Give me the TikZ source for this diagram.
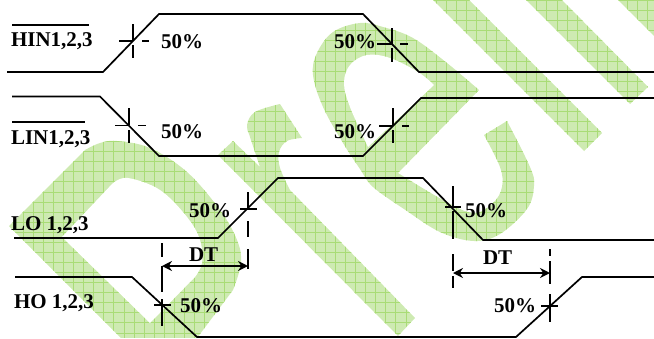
\documentclass[tikz,border=0pt]{standalone}
\usepackage{fontspec}
\setmainfont{Liberation Serif}
\usetikzlibrary{arrows.meta}
\definecolor{wmfill}{HTML}{CEEAB2}
\definecolor{wmgrid}{HTML}{A9DC76}
\tikzset{
  wave/.style={line width=1.7pt,line join=miter},
  tick/.style={line width=1.5pt},
  lab/.style={anchor=base west,inner sep=0pt,outer sep=0pt,font=\fontsize{21}{24}\selectfont\bfseries,text=black},
  dim/.style={line width=1.6pt,{Stealth[length=10pt,width=10pt]}-{Stealth[length=10pt,width=10pt]}},
  hole/.style={fill=white,draw=none}
}
\begin{document}
\begin{tikzpicture}[x=1pt,y=-1pt]
\useasboundingbox (0,0) rectangle (654,338);
\begin{scope}
\clip
  % P
  (9,226) -- (85,150) -- plot[smooth,tension=0.6] coordinates {(85,150)(100,143)(117,141)(150,148)(187,172)(220,210)(237,240)(241,263)(233,290)} -- (197,338) -- (121,338) -- cycle
  % r
  (218,155) -- (233,141) -- (260,167) -- plot[smooth,tension=0.6] coordinates {(260,167)(250,137)(247,125)(255,112)(280,104)} -- (302,138) -- plot[smooth,tension=0.6] coordinates {(302,138)(287,141)(279,152)(280,168)(290,190)} -- (415,318) -- (398,336) -- cycle
  % e
  (479,90) -- plot[smooth,tension=0.6] coordinates {(479,90)(447,63)(413,38)(383,27)(360,23)(333,32)(317,53)(313,75)(323,107)(343,143)(360,169)(373,187)(404,209)(440,232)(474,241)(500,234)(527,209)(534,186)(530,167)(507,121)} -- (484,135) -- plot[smooth,tension=0.6] coordinates {(484,135)(500,167)(502,187)(493,203)(473,213)(443,200)(398,173)} -- cycle
  % l
  (433,0) -- (469,0) -- (602,133) -- (584,151) -- cycle
  % i
  (526,0) -- (562,0) -- (648,87) -- (630,104) -- cycle
  (618,0) -- (654,0) -- (654,36) -- cycle;
\fill[wmfill] (0,0) rectangle (654,338);
\foreach \i in {0,...,65} {\draw[wmgrid,line width=0.8pt] ({3.1+\i*10.07},0) -- ({3.1+\i*10.07},338);}
\foreach \i in {0,...,34} {\draw[wmgrid,line width=0.8pt] (0,{0.6+\i*10.07}) -- (654,{0.6+\i*10.07});}
\end{scope}
% counters of P and e
\fill[hole] (62,237) -- (113,183) -- plot[smooth,tension=0.6] coordinates {(113,183)(128,178)(160,190)(187,217)(200,240)(202,263)(195,277)} -- (150,323) -- cycle;
\fill[hole] (434,85) -- plot[smooth,tension=0.6] coordinates {(434,85)(418,72)(390,58)(367,55)(350,65)(344,83)(350,107)(368,147)} -- cycle;
% waveforms
\draw[wave] (7,72) -- (103,72) -- (159,14) -- (363,14) -- (419,72) -- (654,72);
\draw[wave] (12,96.5) -- (100,96.5) -- (159,156) -- (363,156) -- (421,98) -- (654,98);
\draw[wave] (14,238) -- (218,238) -- (278,178) -- (423,178) -- (483,240) -- (654,240);
\draw[wave] (15,277) -- (132,277) -- (197,337) -- (516,337) -- (582,277) -- (654,277);
% marks
\draw[tick] (133,24) -- (133,41) (133,45) -- (133,58) (119,41) -- (133,41) (142,41) -- (149,41);
\draw[tick] (129,108) -- (129,125) (129,130) -- (129,143) (115,125.5) -- (129,125.5) (138,125.5) -- (146,125.5);
\draw[tick] (392,28) -- (392,44) (392,48) -- (392,62) (377,44) -- (392,44) (400,44) -- (408,44);
\draw[tick] (393,108) -- (393,125) (393,130) -- (393,143) (379,126) -- (393,126) (402,126) -- (409,126);
\draw[tick] (248,192) -- (248,209) (248,221) -- (248,237) (248,249) -- (248,269) (240,209) -- (257,209);
\draw[tick] (162,243) -- (162,257) (162,266) -- (162,292) (162,299) -- (162,326) (154,305) -- (171,305);
\draw[tick] (453,186) -- (453,207) (453,211) -- (453,239) (453,254) -- (453,271) (453,276) -- (453,288) (445,207) -- (461,207);
\draw[tick] (550,249) -- (550,256) (550,261) -- (550,284) (550,294) -- (550,322) (541,306) -- (558,306);
% dimension arrows
\coordinate (dtaL) at (162,266);
\coordinate (dtaR) at (248,266);
\coordinate (dtbL) at (453,273);
\coordinate (dtbR) at (550,273);
\draw[dim] (dtaL) -- (dtaR);
\draw[dim] (dtbL) -- (dtbR);
% labels
\node[lab] (hin) at (11,46) {HIN1,2,3};
\node[lab] (lin) at (11,144) {LIN1,2,3};
\node[lab] (lo) at (11,230) {LO 1,2,3};
\node[lab] (ho) at (14,308) {HO 1,2,3};
\draw[line width=1.3pt] (12,25) -- (89,25);
\draw[line width=1.3pt] (12,122) -- (85,122);
\node[lab] (p1) at (161,48) {50\%};
\node[lab] (p2) at (161,138) {50\%};
\node[lab] (p3) at (334,48) {50\%};
\node[lab] (p4) at (334,138) {50\%};
\node[lab] (p5) at (189,217) {50\%};
\node[lab] (p6) at (180,312) {50\%};
\node[lab] (p7) at (465,217) {50\%};
\node[lab] (p8) at (494,312) {50\%};
\node[lab] (dt1) at (189,261) {DT};
\node[lab] (dt2) at (483,264) {DT};
\end{tikzpicture}
\end{document}
